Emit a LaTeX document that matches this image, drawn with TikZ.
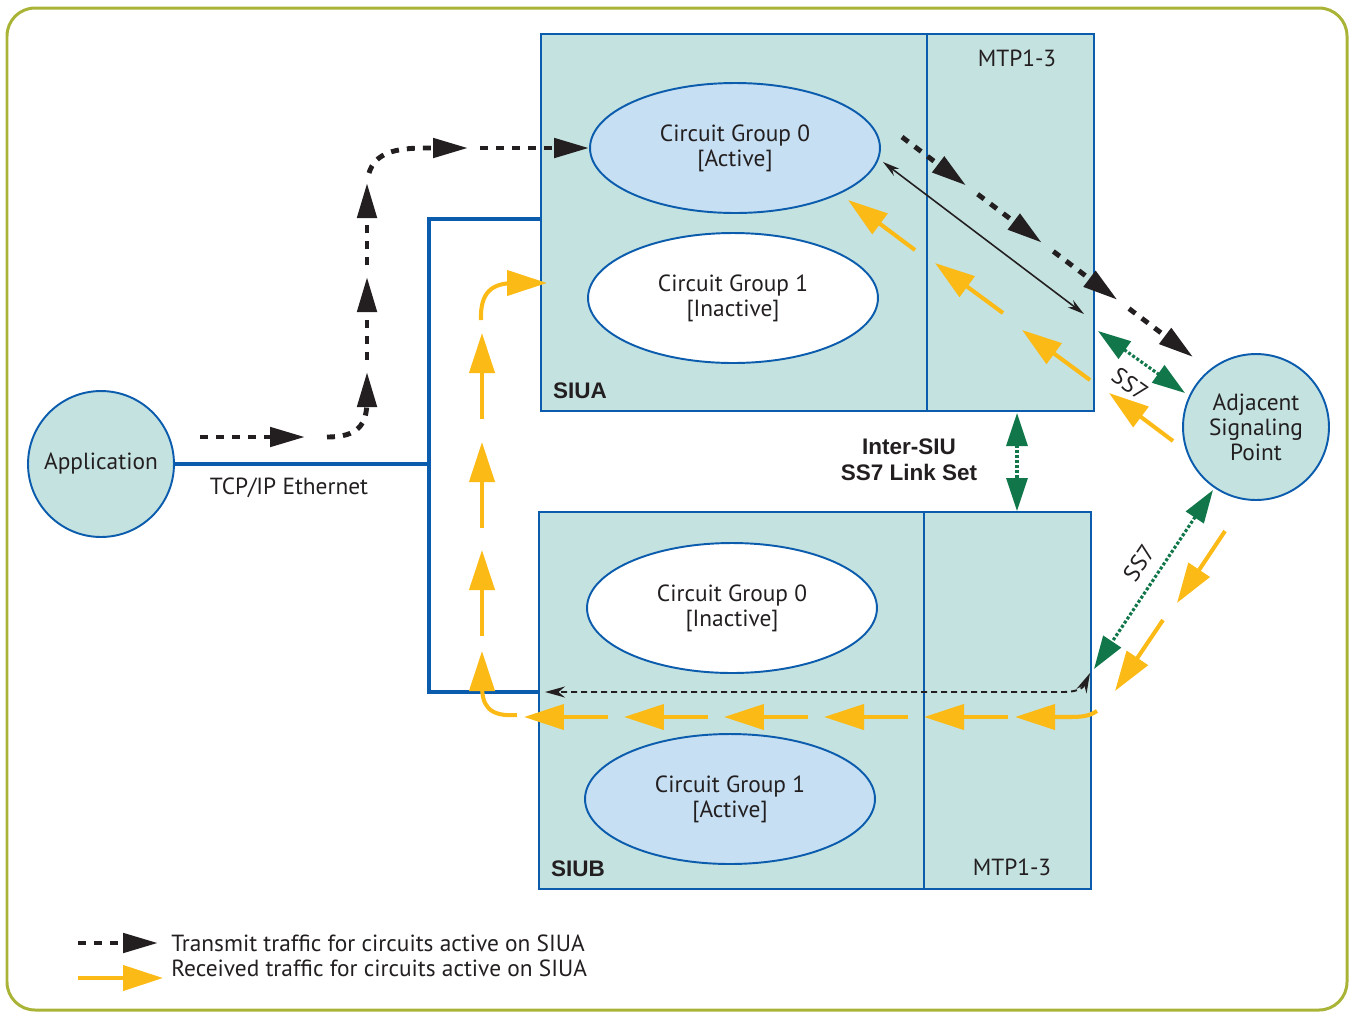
\documentclass[tikz,border=0pt]{standalone}
\usepackage{fontspec}
\setmainfont{PT Sans}
\newfontfamily\hvbold{Liberation Sans}
\usepackage{tikz}
\usetikzlibrary{shapes.geometric,arrows.meta,calc,positioning}

\definecolor{ink}{HTML}{231F20}
\definecolor{olive}{HTML}{A9B437}
\definecolor{siublue}{HTML}{0B5CAD}
\definecolor{siufill}{HTML}{C4E2E0}
\definecolor{activefill}{HTML}{C6DFF2}
\definecolor{txblack}{HTML}{231F20}
\definecolor{rxyellow}{HTML}{FBBA16}
\definecolor{ssgreen}{HTML}{11774A}

\begin{document}
\begin{tikzpicture}[x=0.02cm,y=-0.02cm]
	\tikzstyle{every node} = [text=ink, font=\fontsize{13.3}{14.2}\selectfont]
	\tikzstyle{frame} = [draw=olive, line width=1.7pt, rounded corners=0.56cm]
	\tikzstyle{siubox} = [rectangle, draw=siublue, line width=1.1pt, fill=siufill, inner sep=0pt]
	\tikzstyle{group} = [ellipse, draw=siublue, line width=1.1pt, fill=white, minimum width=5.8cm, minimum height=2.6cm, align=center, inner sep=0pt]
	\tikzstyle{station} = [circle, draw=siublue, line width=1.1pt, fill=siufill, minimum size=2.92cm, align=center, inner sep=0pt]
	\tikzstyle{tcpip} = [draw=siublue, line width=2.3pt]
	\tikzstyle{tx} = [draw=txblack, line width=2.8pt, dash pattern=on 0.16cm off 0.16cm, -{Triangle[length=0.7cm,width=0.38cm]}]
	\tikzstyle{rx} = [draw=rxyellow, line width=2.3pt, -{Triangle[length=0.8cm,width=0.5cm]}]
	\tikzstyle{ss7} = [draw=ssgreen, line width=1.8pt, dash pattern=on 0.06cm off 0.04cm, {Triangle[length=0.66cm,width=0.42cm]}-{Triangle[length=0.66cm,width=0.42cm]}]
	\tikzstyle{ctl} = [draw=txblack, line width=0.9pt, {Stealth[length=0.34cm,width=0.18cm]}-{Stealth[length=0.34cm,width=0.18cm]}]
	\tikzstyle{ctldash} = [draw=txblack, line width=1.1pt, dash pattern=on 0.12cm off 0.08cm, {Stealth[length=0.4cm,width=0.22cm]}-{Stealth[length=0.4cm,width=0.22cm]}]
	\tikzstyle{boldlabel} = [font=\fontsize{12.8}{14.8}\selectfont\hvbold\bfseries]

\useasboundingbox (0,0) rectangle (1353,1012);
\path[frame] (7,8) rectangle (1347,1010);

% signaling interface units
\node[siubox, minimum width=11.06cm, minimum height=7.54cm] (siua) at (817.5,222.5) {};
\node[siubox, minimum width=3.34cm, minimum height=7.54cm] (mtpa) at (1010.5,222.5) {};
\node[siubox, minimum width=11.04cm, minimum height=7.54cm] (siub) at (815,700.5) {};
\node[siubox, minimum width=3.34cm, minimum height=7.54cm] (mtpb) at (1007.5,700.5) {};

\node (mtpalabel) at (1017,58) {MTP1-3};
\node (mtpblabel) at (1012,867) {MTP1-3};
\node[boldlabel, anchor=west] (siualabel) at (547,391) {SIUA};
\node[boldlabel, anchor=west] (siublabel) at (545,869) {SIUB};
\node[boldlabel, align=center] (interlabel) at (909,460) {Inter-SIU\\SS7 Link Set};

\node[group, fill=activefill] (cga0) at (735,148) {Circuit Group 0\\{[Active]}};
\node[group] (cga1) at (733,298) {Circuit Group 1\\{[Inactive]}};
\node[group] (cgb0) at (732,608) {Circuit Group 0\\{[Inactive]}};
\node[group, fill=activefill] (cgb1) at (730,799) {Circuit Group 1\\{[Active]}};

\node[station] (app) at (101,464) {Application};
\node[station] (asp) at (1256,427) {Adjacent\\Signaling\\Point};

% TCP/IP bus
\coordinate (bustop) at (429,219);
\coordinate (busbot) at (429,692);
\path[tcpip] (app.east) -- (app.east -| bustop);
\path[tcpip] (siua.west |- bustop) -- (bustop) -- (busbot) -- (siub.west |- busbot);
\node (tcplabel) at (289,488) {TCP/IP Ethernet};

% transmit traffic
\coordinate (t1a) at (200,437);
\coordinate (t1b) at (305,437);
\coordinate (t2a) at (327,437);
\coordinate (t2b) at (367,372);
\coordinate (t3a) at (367,360);
\coordinate (t3b) at (367,277);
\coordinate (t4a) at (367,265);
\coordinate (t4b) at (367,183);
\coordinate (t5a) at (369,173);
\coordinate (t5b) at (468,148);
\coordinate (t6a) at (480,148);
\path[tx] (t1a) -- (t1b);
\path[tx] (t2a) .. controls (358,437) and (367,425) .. (367,400) -- (t2b);
\path[tx] (t3a) -- (t3b);
\path[tx] (t4a) -- (t4b);
\path[tx] (t5a) .. controls (375,153) and (395,148) .. (425,148) -- (t5b);
\path[tx] (t6a) -- (cga0.west);

\coordinate (dga) at (902,137);
\coordinate (dgb) at (1193,357);
\foreach \s [evaluate=\s as \e using \s+0.22] in {0,0.26,0.52,0.78}
	\path[tx] ($(dga)!\s!(dgb)$) -- ($(dga)!\e!(dgb)$);

% control links
\coordinate (ca) at (883,162);
\coordinate (cb) at (1084,314);
\path[ctl] (ca) -- (cb);
\coordinate (cc) at (1090,673);
\coordinate (cd) at (545,692);
\path[ctldash] (cc) .. controls (1083,688) and (1078,692) .. (1062,692) -- (cd);

% SS7 links
\coordinate (g1a) at (1098,331);
\coordinate (g1b) at (1185,393);
\coordinate (g2a) at (1017,413);
\coordinate (g2b) at (1017,511);
\coordinate (g3a) at (1213,490);
\coordinate (g3b) at (1094,669);
\path[ss7] (g1a) -- (g1b);
\path[ss7] (g2a) -- (g2b);
\path[ss7] (g3a) -- (g3b);
\node[rotate=-35, inner sep=1pt] (ss7a) at (1130,384) {SS7};
\node[rotate=56, inner sep=1pt] (ss7b) at (1139,563) {SS7};

% received traffic
\foreach \a/\b/\c/\d in {1225/531/1177/603, 1163/620/1115/691,
	1173/441/1109/393, 1090/380/1022/330, 1003/313/935/263, 915/250/848/200}
	\path[rx] (\a,\b) -- (\c,\d);
\path[rx] (1097,711) .. controls (1088,717) and (1080,717) .. (1065,717) -- (1015,717);
\foreach \t in {924,824,724,624,524}
	\path[rx] (\t+84,717) -- (\t,717);
\path[rx] (517,715) .. controls (488,717) and (482,705) .. (482,685) -- (482,651);
\foreach \t in {550,442,333}
	\path[rx] (482,\t+86) -- (482,\t);
\path[rx] (481,320) .. controls (480,292) and (492,283) .. (515,283) -- (547,283);

% legend
\coordinate (lg1a) at (78,943);
\coordinate (lg1b) at (158,943);
\coordinate (lg2a) at (78,978);
\coordinate (lg2b) at (163,978);
\path[tx] (lg1a) -- (lg1b);
\path[rx] (lg2a) -- (lg2b);
\node[anchor=west, inner sep=0pt] (lgtx) at (171,943) {Transmit traffic for circuits active on SIUA};
\node[anchor=west, inner sep=0pt] (lgrx) at (171,968) {Received traffic for circuits active on SIUA};
\end{tikzpicture}
\end{document}
